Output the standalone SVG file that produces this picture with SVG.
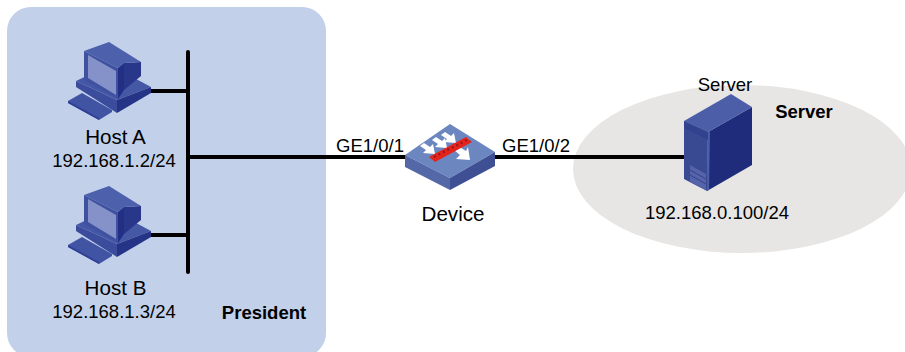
<svg xmlns="http://www.w3.org/2000/svg" width="905" height="352" viewBox="0 0 905 352">
<style>
text{font-family:"Liberation Sans",Arial,sans-serif;font-size:18.5px;fill:#000;text-anchor:middle}
.b{font-weight:bold}
.n{font-size:20.6px}
.l{stroke:#000;stroke-width:4;fill:none;stroke-linecap:round}
.a{fill:#fff}
</style>
<defs>
<g id="pc">
<path d="M68 101L82 93L112 110L112 112L99 120L68 103Z" fill="#4153a3"/>
<path d="M68 101L99 118L99 120L68 103Z" fill="#2f3f95"/>
<path d="M76 81L110 65L151 87L117 100Z" fill="#4558a6"/>
<path d="M76 81L117 100L117 113L76 87Z" fill="#3b4c9c"/>
<path d="M117 100L151 87L151 93L117 113Z" fill="#263488"/>
<path d="M124 63L141 62L141 76L124 90Z" fill="#29378a"/>
<path d="M84 51L109 42L141 62L124 63L118 68Z" fill="#4d60ab"/>
<path d="M84 51L118 68L118 99L84 80Z" fill="#3f51a0"/>
<path d="M118 68L124 63L124 90L118 99Z" fill="#222f84"/>
<path d="M88 55L116 71L116 95L88 78Z" fill="#8492c9"/>
</g>
<path id="arr" class="a" d="M0 0L-12 -1L-9 -4L-15 -8L-11 -11L-5 -7L-2 -10Z"/>
</defs>
<rect x="7" y="7" width="319" height="350" rx="24" fill="#c2d0ea"/>
<ellipse cx="742" cy="169" rx="169" ry="84" fill="#e7e6e4"/>
<g id="connectors">
<path class="l" d="M188 52V272"/>
<path class="l" d="M150 91H188"/>
<path class="l" d="M150 235H188"/>
<path class="l" d="M188 157H405"/>
<path class="l" d="M495 157H685"/>
</g>
<g id="hostA">
<use href="#pc"/>
<text class="n" x="115.500" y="144">Host A</text>
<text x="114" y="167">192.168.1.2/24</text>
</g>
<g id="hostB">
<use href="#pc" y="144"/>
<text class="n" x="115.500" y="295">Host B</text>
<text x="114" y="318">192.168.1.3/24</text>
</g>
<g id="president"><text class="b" x="264" y="319">President</text></g>
<g id="device">
<path d="M405 155L450 124L495 152L450 178Z" fill="#6c87c0"/>
<path d="M405 155L450 178L450 190L405 167Z" fill="#5468a8"/>
<path d="M450 178L495 152L495 166L450 190Z" fill="#3f4f93"/>
<use href="#arr" x="456" y="143"/>
<use href="#arr" x="447" y="148"/>
<use href="#arr" x="435" y="154"/>
<path class="a" d="M458 146L466 151L468 147L470 160L456 159L460 155L454 150Z"/>
<path d="M429 157L466 137L472 142L435 162Z" fill="#e5231d"/>
<path d="M434 157L467 140" stroke="#8c1a1a" stroke-width="2" stroke-dasharray="2 3" fill="none"/>
<text class="n" x="453" y="221">Device</text>
<text x="370" y="152">GE1/0/1</text>
<text x="536" y="152">GE1/0/2</text>
</g>
<g id="server">
<path d="M708 132L752 107L752 165L707 191Z" fill="#1f2b7b"/>
<path d="M684 121L731 94L752 107L708 132Z" fill="#4c5ea8"/>
<path d="M684 121L708 132L707 191L684 179Z" fill="#3a4a92"/>
<path d="M684 121L708 132L708 140L684 128Z" fill="#32428e"/>
<path d="M690 165L706 174L706 190L690 182Z" fill="#5564a8"/>
<path d="M690 170L706 179M690 175L706 184" stroke="#32428e" fill="none"/>
<path d="M708 132L710 131L709 190L707 191Z" fill="#4c5ea8"/>
<text x="725" y="91">Server</text>
<text class="b" x="804" y="118">Server</text>
<text x="717" y="219">192.168.0.100/24</text>
</g>
</svg>
